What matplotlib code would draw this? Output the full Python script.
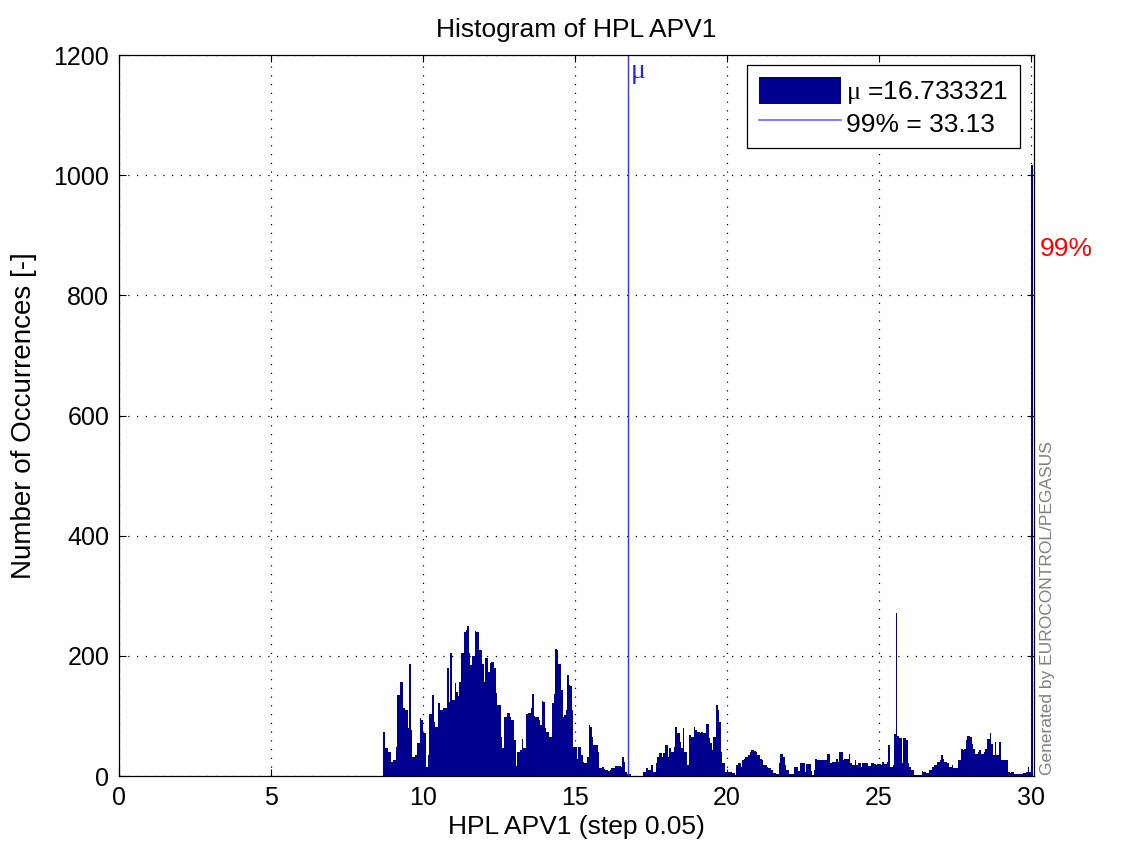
import numpy as np
import matplotlib
matplotlib.use("Agg")
import matplotlib.pyplot as plt

plt.rcParams['font.family'] = ['Liberation Sans', 'DejaVu Sans']
plt.rcParams['mathtext.fontset'] = 'custom'
plt.rcParams['mathtext.rm'] = 'Liberation Serif'

# histogram of HPL APV1, bins of 0.05 starting at 8.70 (last bin holds the overflow)
bin_start = 8.70
bin_step = 0.05
counts = [
    73, 46, 46, 40, 40, 24, 27, 27, 49, 135,
    135, 156, 156, 113, 110, 110, 80, 186, 77, 32,
    32, 35, 55, 55, 97, 93, 71, 71, 15, 35,
    103, 103, 135, 90, 82, 82, 121, 110, 110, 113,
    113, 113, 180, 124, 205, 126, 126, 155, 140, 133,
    157, 205, 205, 240, 243, 250, 205, 185, 199, 199,
    242, 240, 240, 210, 210, 187, 157, 196, 196, 173,
    188, 190, 190, 179, 138, 118, 118, 65, 46, 99,
    99, 105, 105, 99, 93, 93, 60, 17, 40, 40,
    43, 61, 46, 46, 104, 105, 105, 113, 136, 100,
    99, 99, 93, 85, 125, 124, 80, 74, 74, 65,
    65, 121, 136, 211, 210, 187, 187, 143, 99, 101,
    110, 168, 151, 149, 110, 49, 49, 29, 48, 48,
    35, 24, 22, 22, 32, 85, 82, 65, 52, 52,
    52, 40, 13, 13, 15, 11, 10, 10, 9, 10,
    13, 13, 17, 17, 17, 17, 15, 32, 24, 7,
    4, 4, 4, 0, 0, 0, 0, 0, 0, 0,
    0, 7, 7, 13, 10, 10, 19, 7, 7, 22,
    32, 38, 38, 32, 38, 52, 52, 32, 46, 40,
    40, 49, 82, 71, 71, 57, 46, 80, 40, 40,
    19, 69, 65, 65, 81, 77, 73, 73, 71, 73,
    71, 71, 86, 86, 63, 55, 43, 65, 65, 119,
    110, 90, 40, 22, 22, 7, 7, 7, 6, 5,
    5, 2, 19, 21, 21, 15, 27, 28, 32, 32,
    35, 40, 43, 43, 42, 40, 35, 35, 29, 27,
    19, 19, 15, 13, 13, 10, 5, 5, 4, 4,
    21, 37, 37, 32, 18, 10, 10, 3, 3, 4,
    15, 15, 15, 9, 21, 21, 21, 7, 20, 20,
    20, 9, 2, 10, 28, 26, 26, 26, 26, 26,
    26, 27, 37, 37, 22, 24, 23, 23, 28, 24,
    40, 40, 27, 29, 29, 29, 37, 21, 18, 18,
    26, 18, 22, 22, 15, 22, 21, 21, 21, 16,
    16, 22, 22, 20, 18, 20, 20, 18, 24, 20,
    20, 24, 52, 15, 15, 18, 70, 272, 67, 64,
    64, 22, 63, 63, 60, 21, 15, 10, 10, 2,
    2, 2, 2, 2, 9, 7, 7, 5, 5, 10,
    10, 15, 18, 18, 24, 24, 27, 35, 29, 24,
    24, 21, 15, 15, 18, 13, 13, 13, 27, 27,
    45, 43, 45, 60, 66, 66, 65, 54, 45, 37,
    37, 40, 43, 37, 37, 40, 45, 61, 61, 71,
    54, 35, 57, 35, 35, 57, 27, 26, 27, 27,
    26, 7, 5, 7, 7, 4, 4, 4, 4, 3,
    3, 5, 5, 7, 15, 7, 1017,
]
mu_value = 16.733321
p99_value = 33.13

x_ticks = [0, 5, 10, 15, 20, 25, 30]
y_ticks = [0, 200, 400, 600, 800, 1000, 1200]

edges = bin_start + bin_step * np.arange(len(counts))

fig = plt.figure(figsize=(11.28, 8.52), dpi=100)
ax = fig.add_axes([0.1055, 0.0892, 0.8112, 0.8462])

bar_color = '#00008F'
bars = ax.bar(edges, counts, width=bin_step, align='edge', color=bar_color,
              edgecolor='none', linewidth=0, antialiased=False,
              label='$\\mathrm{\\mu}$ =16.733321')
ax.axvline(mu_value, color='#3434ff', linewidth=1.0)
p99_line = ax.axvline(p99_value, color='#6666ff', linewidth=1.2, label='99% = 33.13')

ax.annotate('μ', xy=(mu_value, 1200), xytext=(2, -3), textcoords='offset points',
            ha='left', va='top', color='#2020ff', fontsize=20, family='Liberation Serif')

ax.set_xlim(0, 30.1)
ax.set_ylim(0, 1200)
ax.set_xticks(x_ticks)
ax.set_yticks(y_ticks)
ax.tick_params(direction='in', length=5, width=0.8, top=True, right=True,
               labelsize=18, pad=7)
for sp in ax.spines.values():
    sp.set_linewidth(0.9)

ax.set_axisbelow(True)
ax.grid(True, linestyle=(0, (1, 6)), color='black', linewidth=0.9)

ax.set_title('Histogram of HPL APV1', fontsize=19, pad=13)
ax.set_xlabel('HPL APV1 (step 0.05)', fontsize=19, labelpad=4)
ax.set_ylabel('Number of Occurrences [-]', fontsize=20, labelpad=12)

leg = ax.legend(handles=[bars, p99_line], loc='upper right',
                bbox_to_anchor=(0.985, 0.986), borderaxespad=0, fontsize=19,
                handlelength=3.1, handleheight=1.2, handletextpad=0.2,
                labelspacing=0.1, borderpad=0.45, fancybox=False, framealpha=1)
leg.get_frame().set_edgecolor('black')
leg.get_frame().set_linewidth(0.9)

ax.text(1.0066, 0.731, '99%', transform=ax.transAxes, color='red', fontsize=19,
        ha='left', va='center', clip_on=False)

fig.text(0.9285, 0.0904, 'Generated by EUROCONTROL/PEGASUS', rotation=90,
         color='#808080', fontsize=12.5, ha='center', va='bottom')

fig.savefig('out.png', dpi=100)
